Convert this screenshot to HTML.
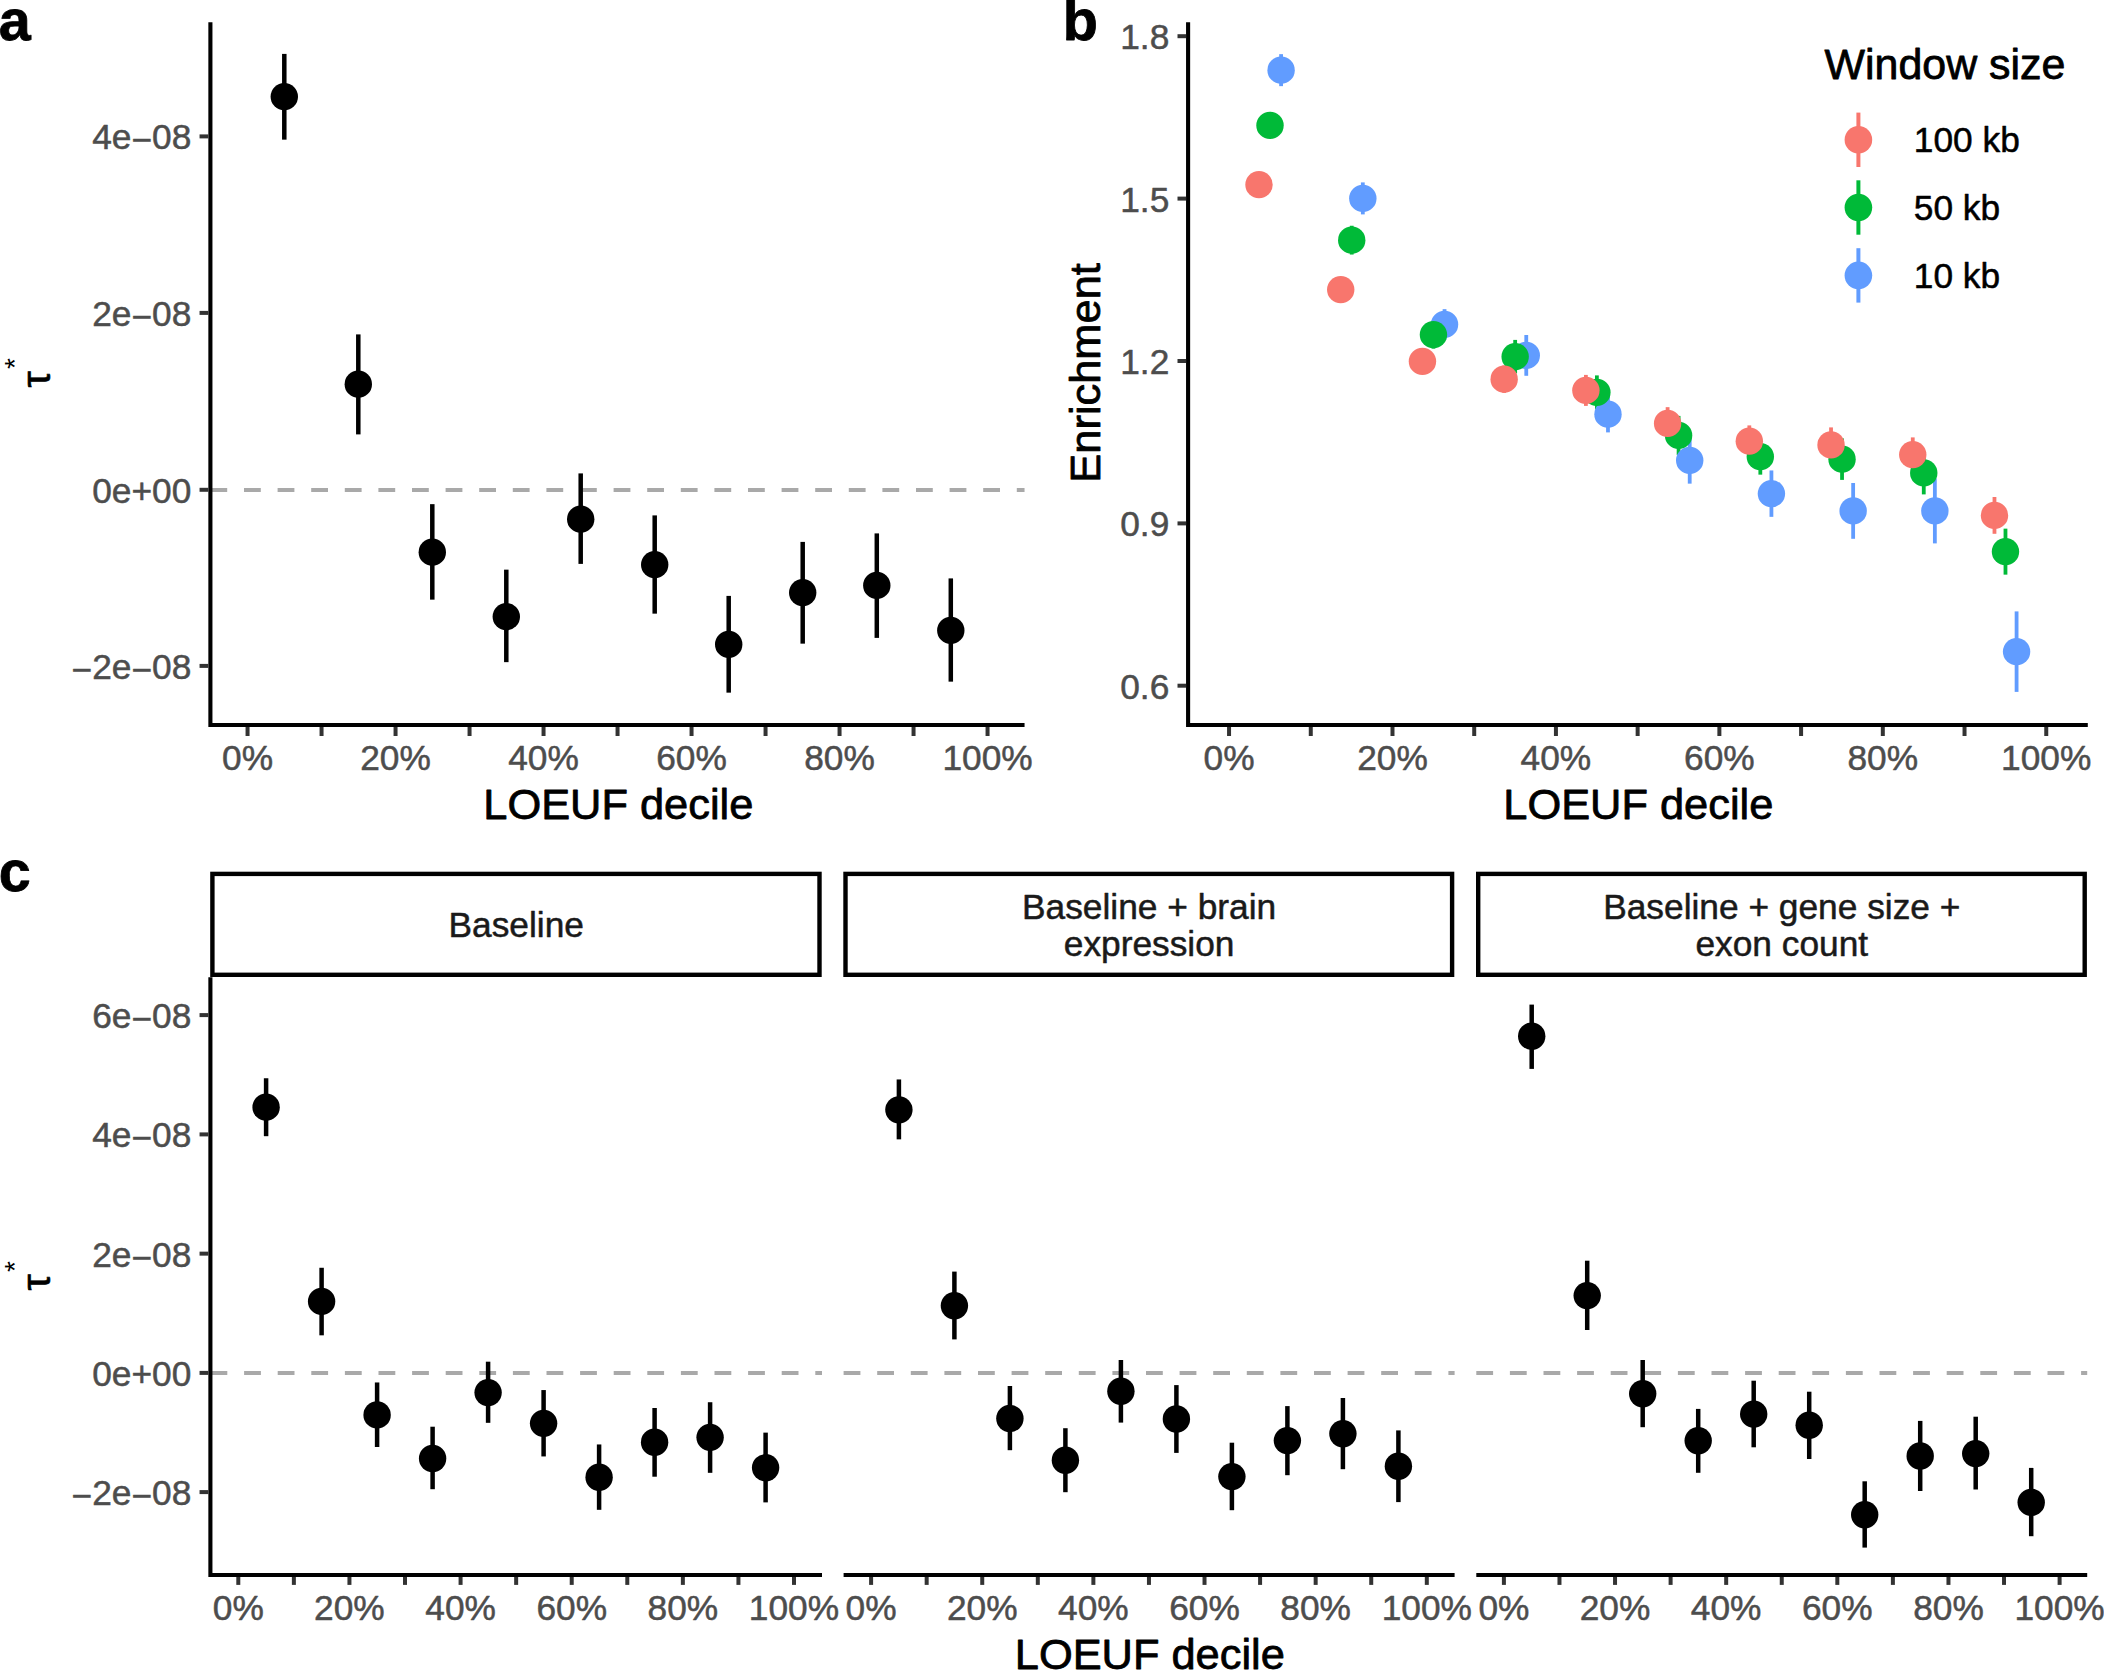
<!DOCTYPE html>
<html lang="en"><head><meta charset="utf-8"><title>LOEUF decile figure</title>
<style>html,body{margin:0;padding:0;background:#fff;}svg{display:block;}text{font-family:"Liberation Sans",sans-serif;}</style>
</head><body>
<svg width="2104" height="1670" viewBox="0 0 2104 1670">
<rect x="0" y="0" width="2104" height="1670" fill="#ffffff"/>
<g transform="translate(0.3,0.4)">
<line x1="210.1" y1="489.6" x2="1024.25" y2="489.6" stroke="#a9a9a9" stroke-width="4" stroke-dasharray="16.8 16.8"/>
<line x1="284" y1="53.5" x2="284" y2="139.25" stroke="#000" stroke-width="4.5"/>
<line x1="358" y1="334" x2="358" y2="434" stroke="#000" stroke-width="4.5"/>
<line x1="432" y1="503.75" x2="432" y2="599.25" stroke="#000" stroke-width="4.5"/>
<line x1="506" y1="569.25" x2="506" y2="661.75" stroke="#000" stroke-width="4.5"/>
<line x1="580.4" y1="473" x2="580.4" y2="563.5" stroke="#000" stroke-width="4.5"/>
<line x1="654.4" y1="515" x2="654.4" y2="613.25" stroke="#000" stroke-width="4.5"/>
<line x1="728.4" y1="595.5" x2="728.4" y2="692.25" stroke="#000" stroke-width="4.5"/>
<line x1="802.4" y1="541.5" x2="802.4" y2="643.25" stroke="#000" stroke-width="4.5"/>
<line x1="876.5" y1="533" x2="876.5" y2="637.5" stroke="#000" stroke-width="4.5"/>
<line x1="950.5" y1="578" x2="950.5" y2="681.25" stroke="#000" stroke-width="4.5"/>
<circle cx="284" cy="96.25" r="13.7" fill="#000"/>
<circle cx="358" cy="383.75" r="13.7" fill="#000"/>
<circle cx="432" cy="551.75" r="13.7" fill="#000"/>
<circle cx="506" cy="616.25" r="13.7" fill="#000"/>
<circle cx="580.4" cy="518.75" r="13.7" fill="#000"/>
<circle cx="654.4" cy="564.25" r="13.7" fill="#000"/>
<circle cx="728.4" cy="644" r="13.7" fill="#000"/>
<circle cx="802.4" cy="592.25" r="13.7" fill="#000"/>
<circle cx="876.5" cy="585" r="13.7" fill="#000"/>
<circle cx="950.5" cy="630" r="13.7" fill="#000"/>
<path d="M210.1,21.75 V724.6 H1024.25" fill="none" stroke="#000" stroke-width="4.1"/>
<line x1="199.25" y1="136" x2="208.1" y2="136" stroke="#333333" stroke-width="4"/>
<text transform="translate(191,148.9) scale(1,1)" font-size="35.3" fill="#4d4d4d" text-anchor="end" stroke="#4d4d4d" stroke-width="0.5" stroke-linejoin="round">4e<tspan dy="3">−</tspan><tspan dy="-3">08</tspan></text>
<line x1="199.25" y1="312.5" x2="208.1" y2="312.5" stroke="#333333" stroke-width="4"/>
<text transform="translate(191,325.4) scale(1,1)" font-size="35.3" fill="#4d4d4d" text-anchor="end" stroke="#4d4d4d" stroke-width="0.5" stroke-linejoin="round">2e<tspan dy="3">−</tspan><tspan dy="-3">08</tspan></text>
<line x1="199.25" y1="489.4" x2="208.1" y2="489.4" stroke="#333333" stroke-width="4"/>
<text transform="translate(191,502.3) scale(1,1)" font-size="35.3" fill="#4d4d4d" text-anchor="end" stroke="#4d4d4d" stroke-width="0.5" stroke-linejoin="round">0e+00</text>
<line x1="199.25" y1="665.5" x2="208.1" y2="665.5" stroke="#333333" stroke-width="4"/>
<text transform="translate(191,678.4) scale(1,1)" font-size="35.3" fill="#4d4d4d" text-anchor="end" stroke="#4d4d4d" stroke-width="0.5" stroke-linejoin="round"><tspan dy="3">−</tspan><tspan dy="-3">2e</tspan><tspan dy="3">−</tspan><tspan dy="-3">08</tspan></text>
<line x1="247.25" y1="726.6" x2="247.25" y2="735.6" stroke="#333333" stroke-width="4"/>
<text transform="translate(247.25,769.6) scale(1,1)" font-size="35.3" fill="#4d4d4d" text-anchor="middle" stroke="#4d4d4d" stroke-width="0.5" stroke-linejoin="round">0%</text>
<line x1="321.25" y1="726.6" x2="321.25" y2="735.6" stroke="#333333" stroke-width="4"/>
<line x1="395.25" y1="726.6" x2="395.25" y2="735.6" stroke="#333333" stroke-width="4"/>
<text transform="translate(395.25,769.6) scale(1,1)" font-size="35.3" fill="#4d4d4d" text-anchor="middle" stroke="#4d4d4d" stroke-width="0.5" stroke-linejoin="round">20%</text>
<line x1="469.25" y1="726.6" x2="469.25" y2="735.6" stroke="#333333" stroke-width="4"/>
<line x1="543.25" y1="726.6" x2="543.25" y2="735.6" stroke="#333333" stroke-width="4"/>
<text transform="translate(543.25,769.6) scale(1,1)" font-size="35.3" fill="#4d4d4d" text-anchor="middle" stroke="#4d4d4d" stroke-width="0.5" stroke-linejoin="round">40%</text>
<line x1="617.25" y1="726.6" x2="617.25" y2="735.6" stroke="#333333" stroke-width="4"/>
<line x1="691.25" y1="726.6" x2="691.25" y2="735.6" stroke="#333333" stroke-width="4"/>
<text transform="translate(691.25,769.6) scale(1,1)" font-size="35.3" fill="#4d4d4d" text-anchor="middle" stroke="#4d4d4d" stroke-width="0.5" stroke-linejoin="round">60%</text>
<line x1="765.25" y1="726.6" x2="765.25" y2="735.6" stroke="#333333" stroke-width="4"/>
<line x1="839.25" y1="726.6" x2="839.25" y2="735.6" stroke="#333333" stroke-width="4"/>
<text transform="translate(839.25,769.6) scale(1,1)" font-size="35.3" fill="#4d4d4d" text-anchor="middle" stroke="#4d4d4d" stroke-width="0.5" stroke-linejoin="round">80%</text>
<line x1="913.25" y1="726.6" x2="913.25" y2="735.6" stroke="#333333" stroke-width="4"/>
<line x1="987.25" y1="726.6" x2="987.25" y2="735.6" stroke="#333333" stroke-width="4"/>
<text transform="translate(987.25,769.6) scale(1,1)" font-size="35.3" fill="#4d4d4d" text-anchor="middle" stroke="#4d4d4d" stroke-width="0.5" stroke-linejoin="round">100%</text>
<text transform="translate(618,818.9) scale(1,1)" font-size="43.4" fill="#000" text-anchor="middle" stroke="#000" stroke-width="0.8" stroke-linejoin="round">LOEUF decile</text>
<g transform="translate(49.7,373.5) rotate(-90)">
<text x="-13.7" y="0" font-family="'Liberation Serif', 'DejaVu Serif', serif" font-size="41" fill="#000" stroke="#000" stroke-width="0.6">τ</text>
<text x="5" y="-26.2" font-size="28" fill="#000">*</text>
</g>
<text x="-1.5" y="40" font-size="57.5" fill="#000" text-anchor="start" font-weight="bold" stroke="#000" stroke-width="0.8" stroke-linejoin="round">a</text>
<line x1="1280.8" y1="53.75" x2="1280.8" y2="85.75" stroke="#619cff" stroke-width="3.8"/>
<line x1="1362.52" y1="182" x2="1362.52" y2="214" stroke="#619cff" stroke-width="3.8"/>
<line x1="1444.24" y1="308.75" x2="1444.24" y2="339.25" stroke="#619cff" stroke-width="3.8"/>
<line x1="1525.96" y1="334.6" x2="1525.96" y2="375.4" stroke="#619cff" stroke-width="3.8"/>
<line x1="1607.68" y1="395.5" x2="1607.68" y2="432" stroke="#619cff" stroke-width="3.8"/>
<line x1="1689.4" y1="436.75" x2="1689.4" y2="483.25" stroke="#619cff" stroke-width="3.8"/>
<line x1="1771.12" y1="470.05" x2="1771.12" y2="516.45" stroke="#619cff" stroke-width="3.8"/>
<line x1="1852.84" y1="482.6" x2="1852.84" y2="538.4" stroke="#619cff" stroke-width="3.8"/>
<line x1="1934.56" y1="478" x2="1934.56" y2="543" stroke="#619cff" stroke-width="3.8"/>
<line x1="2016.28" y1="611" x2="2016.28" y2="691.5" stroke="#619cff" stroke-width="3.8"/>
<line x1="1269.7" y1="113" x2="1269.7" y2="137" stroke="#00ba38" stroke-width="3.8"/>
<line x1="1351.42" y1="225.35" x2="1351.42" y2="254.15" stroke="#00ba38" stroke-width="3.8"/>
<line x1="1433.14" y1="320.25" x2="1433.14" y2="348.25" stroke="#00ba38" stroke-width="3.8"/>
<line x1="1514.86" y1="339.5" x2="1514.86" y2="373" stroke="#00ba38" stroke-width="3.8"/>
<line x1="1596.58" y1="375" x2="1596.58" y2="409" stroke="#00ba38" stroke-width="3.8"/>
<line x1="1678.3" y1="415.5" x2="1678.3" y2="454.5" stroke="#00ba38" stroke-width="3.8"/>
<line x1="1760.02" y1="438.25" x2="1760.02" y2="474.25" stroke="#00ba38" stroke-width="3.8"/>
<line x1="1841.74" y1="438" x2="1841.74" y2="479.5" stroke="#00ba38" stroke-width="3.8"/>
<line x1="1923.46" y1="451" x2="1923.46" y2="494" stroke="#00ba38" stroke-width="3.8"/>
<line x1="2005.18" y1="528.25" x2="2005.18" y2="574.25" stroke="#00ba38" stroke-width="3.8"/>
<line x1="1258.7" y1="176.25" x2="1258.7" y2="192.25" stroke="#f8766d" stroke-width="3.8"/>
<line x1="1340.42" y1="280.25" x2="1340.42" y2="298.25" stroke="#f8766d" stroke-width="3.8"/>
<line x1="1422.14" y1="350" x2="1422.14" y2="372" stroke="#f8766d" stroke-width="3.8"/>
<line x1="1503.86" y1="365" x2="1503.86" y2="392.5" stroke="#f8766d" stroke-width="3.8"/>
<line x1="1585.58" y1="374.5" x2="1585.58" y2="405.5" stroke="#f8766d" stroke-width="3.8"/>
<line x1="1667.3" y1="406.75" x2="1667.3" y2="439.25" stroke="#f8766d" stroke-width="3.8"/>
<line x1="1749.02" y1="425" x2="1749.02" y2="456.5" stroke="#f8766d" stroke-width="3.8"/>
<line x1="1830.74" y1="427" x2="1830.74" y2="462" stroke="#f8766d" stroke-width="3.8"/>
<line x1="1912.46" y1="437" x2="1912.46" y2="471.5" stroke="#f8766d" stroke-width="3.8"/>
<line x1="1994.18" y1="496.6" x2="1994.18" y2="533.4" stroke="#f8766d" stroke-width="3.8"/>
<circle cx="1280.8" cy="69.75" r="13.7" fill="#619cff"/>
<circle cx="1269.7" cy="125" r="13.7" fill="#00ba38"/>
<circle cx="1258.7" cy="184.25" r="13.7" fill="#f8766d"/>
<circle cx="1362.52" cy="198" r="13.7" fill="#619cff"/>
<circle cx="1351.42" cy="239.75" r="13.7" fill="#00ba38"/>
<circle cx="1340.42" cy="289.25" r="13.7" fill="#f8766d"/>
<circle cx="1444.24" cy="324" r="13.7" fill="#619cff"/>
<circle cx="1433.14" cy="334.25" r="13.7" fill="#00ba38"/>
<circle cx="1422.14" cy="361" r="13.7" fill="#f8766d"/>
<circle cx="1525.96" cy="355" r="13.7" fill="#619cff"/>
<circle cx="1514.86" cy="356.25" r="13.7" fill="#00ba38"/>
<circle cx="1503.86" cy="378.75" r="13.7" fill="#f8766d"/>
<circle cx="1607.68" cy="413.75" r="13.7" fill="#619cff"/>
<circle cx="1596.58" cy="392" r="13.7" fill="#00ba38"/>
<circle cx="1585.58" cy="390" r="13.7" fill="#f8766d"/>
<circle cx="1689.4" cy="460" r="13.7" fill="#619cff"/>
<circle cx="1678.3" cy="435" r="13.7" fill="#00ba38"/>
<circle cx="1667.3" cy="423" r="13.7" fill="#f8766d"/>
<circle cx="1771.12" cy="493.25" r="13.7" fill="#619cff"/>
<circle cx="1760.02" cy="456.25" r="13.7" fill="#00ba38"/>
<circle cx="1749.02" cy="440.75" r="13.7" fill="#f8766d"/>
<circle cx="1852.84" cy="510.5" r="13.7" fill="#619cff"/>
<circle cx="1841.74" cy="458.75" r="13.7" fill="#00ba38"/>
<circle cx="1830.74" cy="444.5" r="13.7" fill="#f8766d"/>
<circle cx="1934.56" cy="510.5" r="13.7" fill="#619cff"/>
<circle cx="1923.46" cy="472.5" r="13.7" fill="#00ba38"/>
<circle cx="1912.46" cy="454.25" r="13.7" fill="#f8766d"/>
<circle cx="2016.28" cy="651.25" r="13.7" fill="#619cff"/>
<circle cx="2005.18" cy="551.25" r="13.7" fill="#00ba38"/>
<circle cx="1994.18" cy="515" r="13.7" fill="#f8766d"/>
<path d="M1187.8,21.75 V724.6 H2087.5" fill="none" stroke="#000" stroke-width="4.1"/>
<line x1="1177.2" y1="35.8" x2="1185.8" y2="35.8" stroke="#333333" stroke-width="4"/>
<text transform="translate(1169,48.7) scale(1,1)" font-size="35.3" fill="#4d4d4d" text-anchor="end" stroke="#4d4d4d" stroke-width="0.5" stroke-linejoin="round">1.8</text>
<line x1="1177.2" y1="198.2" x2="1185.8" y2="198.2" stroke="#333333" stroke-width="4"/>
<text transform="translate(1169,211.1) scale(1,1)" font-size="35.3" fill="#4d4d4d" text-anchor="end" stroke="#4d4d4d" stroke-width="0.5" stroke-linejoin="round">1.5</text>
<line x1="1177.2" y1="360.6" x2="1185.8" y2="360.6" stroke="#333333" stroke-width="4"/>
<text transform="translate(1169,373.5) scale(1,1)" font-size="35.3" fill="#4d4d4d" text-anchor="end" stroke="#4d4d4d" stroke-width="0.5" stroke-linejoin="round">1.2</text>
<line x1="1177.2" y1="523" x2="1185.8" y2="523" stroke="#333333" stroke-width="4"/>
<text transform="translate(1169,535.9) scale(1,1)" font-size="35.3" fill="#4d4d4d" text-anchor="end" stroke="#4d4d4d" stroke-width="0.5" stroke-linejoin="round">0.9</text>
<line x1="1177.2" y1="685.3" x2="1185.8" y2="685.3" stroke="#333333" stroke-width="4"/>
<text transform="translate(1169,698.2) scale(1,1)" font-size="35.3" fill="#4d4d4d" text-anchor="end" stroke="#4d4d4d" stroke-width="0.5" stroke-linejoin="round">0.6</text>
<line x1="1228.75" y1="726.6" x2="1228.75" y2="735.6" stroke="#333333" stroke-width="4"/>
<text transform="translate(1228.75,769.6) scale(1,1)" font-size="35.3" fill="#4d4d4d" text-anchor="middle" stroke="#4d4d4d" stroke-width="0.5" stroke-linejoin="round">0%</text>
<line x1="1310.47" y1="726.6" x2="1310.47" y2="735.6" stroke="#333333" stroke-width="4"/>
<line x1="1392.19" y1="726.6" x2="1392.19" y2="735.6" stroke="#333333" stroke-width="4"/>
<text transform="translate(1392.19,769.6) scale(1,1)" font-size="35.3" fill="#4d4d4d" text-anchor="middle" stroke="#4d4d4d" stroke-width="0.5" stroke-linejoin="round">20%</text>
<line x1="1473.91" y1="726.6" x2="1473.91" y2="735.6" stroke="#333333" stroke-width="4"/>
<line x1="1555.63" y1="726.6" x2="1555.63" y2="735.6" stroke="#333333" stroke-width="4"/>
<text transform="translate(1555.63,769.6) scale(1,1)" font-size="35.3" fill="#4d4d4d" text-anchor="middle" stroke="#4d4d4d" stroke-width="0.5" stroke-linejoin="round">40%</text>
<line x1="1637.35" y1="726.6" x2="1637.35" y2="735.6" stroke="#333333" stroke-width="4"/>
<line x1="1719.07" y1="726.6" x2="1719.07" y2="735.6" stroke="#333333" stroke-width="4"/>
<text transform="translate(1719.07,769.6) scale(1,1)" font-size="35.3" fill="#4d4d4d" text-anchor="middle" stroke="#4d4d4d" stroke-width="0.5" stroke-linejoin="round">60%</text>
<line x1="1800.79" y1="726.6" x2="1800.79" y2="735.6" stroke="#333333" stroke-width="4"/>
<line x1="1882.51" y1="726.6" x2="1882.51" y2="735.6" stroke="#333333" stroke-width="4"/>
<text transform="translate(1882.51,769.6) scale(1,1)" font-size="35.3" fill="#4d4d4d" text-anchor="middle" stroke="#4d4d4d" stroke-width="0.5" stroke-linejoin="round">80%</text>
<line x1="1964.23" y1="726.6" x2="1964.23" y2="735.6" stroke="#333333" stroke-width="4"/>
<line x1="2045.95" y1="726.6" x2="2045.95" y2="735.6" stroke="#333333" stroke-width="4"/>
<text transform="translate(2045.95,769.6) scale(1,1)" font-size="35.3" fill="#4d4d4d" text-anchor="middle" stroke="#4d4d4d" stroke-width="0.5" stroke-linejoin="round">100%</text>
<text transform="translate(1638,818.9) scale(1,1)" font-size="43.4" fill="#000" text-anchor="middle" stroke="#000" stroke-width="0.8" stroke-linejoin="round">LOEUF decile</text>
<text transform="translate(1099.5,372.5) rotate(-90) scale(1,1)" font-size="43.4" fill="#000" stroke="#000" stroke-width="0.8" stroke-linejoin="round" text-anchor="middle">Enrichment</text>
<text x="1062.4" y="40" font-size="57.5" fill="#000" text-anchor="start" font-weight="bold" stroke="#000" stroke-width="0.8" stroke-linejoin="round">b</text>
<text transform="translate(1824.3,78.6) scale(1,1)" font-size="42.9" fill="#000" text-anchor="start" stroke="#000" stroke-width="0.8" stroke-linejoin="round">Window size</text>
<line x1="1858.1" y1="112.2" x2="1858.1" y2="166.6" stroke="#f8766d" stroke-width="4"/>
<circle cx="1858.1" cy="139.4" r="13.8" fill="#f8766d"/>
<text transform="translate(1913.5,152) scale(1,1)" font-size="35.3" fill="#000" text-anchor="start" stroke="#000" stroke-width="0.5" stroke-linejoin="round">100 kb</text>
<line x1="1858.1" y1="179.9" x2="1858.1" y2="234.3" stroke="#00ba38" stroke-width="4"/>
<circle cx="1858.1" cy="207.1" r="13.8" fill="#00ba38"/>
<text transform="translate(1913.5,219.8) scale(1,1)" font-size="35.3" fill="#000" text-anchor="start" stroke="#000" stroke-width="0.5" stroke-linejoin="round">50 kb</text>
<line x1="1858.1" y1="247.8" x2="1858.1" y2="302.2" stroke="#619cff" stroke-width="4"/>
<circle cx="1858.1" cy="275" r="13.8" fill="#619cff"/>
<text transform="translate(1913.5,287.6) scale(1,1)" font-size="35.3" fill="#000" text-anchor="start" stroke="#000" stroke-width="0.5" stroke-linejoin="round">10 kb</text>
<line x1="210.2" y1="1372.5" x2="821.7" y2="1372.5" stroke="#a9a9a9" stroke-width="4" stroke-dasharray="16.8 16.8"/>
<line x1="265.8" y1="1077.85" x2="265.8" y2="1135.79" stroke="#000" stroke-width="4.5"/>
<line x1="321.3" y1="1267.37" x2="321.3" y2="1334.93" stroke="#000" stroke-width="4.5"/>
<line x1="376.8" y1="1382.06" x2="376.8" y2="1446.58" stroke="#000" stroke-width="4.5"/>
<line x1="432.3" y1="1426.31" x2="432.3" y2="1488.81" stroke="#000" stroke-width="4.5"/>
<line x1="487.8" y1="1361.28" x2="487.8" y2="1422.43" stroke="#000" stroke-width="4.5"/>
<line x1="543.3" y1="1389.66" x2="543.3" y2="1456.04" stroke="#000" stroke-width="4.5"/>
<line x1="598.8" y1="1444.05" x2="598.8" y2="1509.42" stroke="#000" stroke-width="4.5"/>
<line x1="654.3" y1="1407.57" x2="654.3" y2="1476.31" stroke="#000" stroke-width="4.5"/>
<line x1="709.8" y1="1401.82" x2="709.8" y2="1472.43" stroke="#000" stroke-width="4.5"/>
<line x1="765.3" y1="1432.23" x2="765.3" y2="1501.99" stroke="#000" stroke-width="4.5"/>
<circle cx="265.8" cy="1106.74" r="13.7" fill="#000"/>
<circle cx="321.3" cy="1300.98" r="13.7" fill="#000"/>
<circle cx="376.8" cy="1414.49" r="13.7" fill="#000"/>
<circle cx="432.3" cy="1458.07" r="13.7" fill="#000"/>
<circle cx="487.8" cy="1392.19" r="13.7" fill="#000"/>
<circle cx="543.3" cy="1422.94" r="13.7" fill="#000"/>
<circle cx="598.8" cy="1476.82" r="13.7" fill="#000"/>
<circle cx="654.3" cy="1441.85" r="13.7" fill="#000"/>
<circle cx="709.8" cy="1436.96" r="13.7" fill="#000"/>
<circle cx="765.3" cy="1467.36" r="13.7" fill="#000"/>
<path d="M210.1,976.9 V1574.6 H821.7" fill="none" stroke="#000" stroke-width="4.1"/>
<line x1="238" y1="1576.6" x2="238" y2="1584.5" stroke="#333333" stroke-width="4"/>
<text transform="translate(238,1620) scale(1,1)" font-size="35.3" fill="#4d4d4d" text-anchor="middle" stroke="#4d4d4d" stroke-width="0.5" stroke-linejoin="round">0%</text>
<line x1="293.57" y1="1576.6" x2="293.57" y2="1584.5" stroke="#333333" stroke-width="4"/>
<line x1="349.14" y1="1576.6" x2="349.14" y2="1584.5" stroke="#333333" stroke-width="4"/>
<text transform="translate(349.14,1620) scale(1,1)" font-size="35.3" fill="#4d4d4d" text-anchor="middle" stroke="#4d4d4d" stroke-width="0.5" stroke-linejoin="round">20%</text>
<line x1="404.71" y1="1576.6" x2="404.71" y2="1584.5" stroke="#333333" stroke-width="4"/>
<line x1="460.28" y1="1576.6" x2="460.28" y2="1584.5" stroke="#333333" stroke-width="4"/>
<text transform="translate(460.28,1620) scale(1,1)" font-size="35.3" fill="#4d4d4d" text-anchor="middle" stroke="#4d4d4d" stroke-width="0.5" stroke-linejoin="round">40%</text>
<line x1="515.85" y1="1576.6" x2="515.85" y2="1584.5" stroke="#333333" stroke-width="4"/>
<line x1="571.42" y1="1576.6" x2="571.42" y2="1584.5" stroke="#333333" stroke-width="4"/>
<text transform="translate(571.42,1620) scale(1,1)" font-size="35.3" fill="#4d4d4d" text-anchor="middle" stroke="#4d4d4d" stroke-width="0.5" stroke-linejoin="round">60%</text>
<line x1="626.99" y1="1576.6" x2="626.99" y2="1584.5" stroke="#333333" stroke-width="4"/>
<line x1="682.56" y1="1576.6" x2="682.56" y2="1584.5" stroke="#333333" stroke-width="4"/>
<text transform="translate(682.56,1620) scale(1,1)" font-size="35.3" fill="#4d4d4d" text-anchor="middle" stroke="#4d4d4d" stroke-width="0.5" stroke-linejoin="round">80%</text>
<line x1="738.13" y1="1576.6" x2="738.13" y2="1584.5" stroke="#333333" stroke-width="4"/>
<line x1="793.7" y1="1576.6" x2="793.7" y2="1584.5" stroke="#333333" stroke-width="4"/>
<text transform="translate(793.7,1620) scale(1,1)" font-size="35.3" fill="#4d4d4d" text-anchor="middle" stroke="#4d4d4d" stroke-width="0.5" stroke-linejoin="round">100%</text>
<rect x="212.1" y="873.5" width="607.1" height="100.9" fill="#fff" stroke="#000" stroke-width="4.4"/>
<text transform="translate(515.95,937) scale(1,1)" font-size="35.3" fill="#1a1a1a" text-anchor="middle" stroke="#1a1a1a" stroke-width="0.5" stroke-linejoin="round">Baseline</text>
<line x1="843.3" y1="1372.5" x2="1454.3" y2="1372.5" stroke="#a9a9a9" stroke-width="4" stroke-dasharray="16.8 16.8"/>
<line x1="898.6" y1="1079.05" x2="898.6" y2="1138.95" stroke="#000" stroke-width="4.5"/>
<line x1="954.1" y1="1271.2" x2="954.1" y2="1339" stroke="#000" stroke-width="4.5"/>
<line x1="1009.6" y1="1385.6" x2="1009.6" y2="1449.8" stroke="#000" stroke-width="4.5"/>
<line x1="1065.1" y1="1427.8" x2="1065.1" y2="1491.8" stroke="#000" stroke-width="4.5"/>
<line x1="1120.6" y1="1359.6" x2="1120.6" y2="1422.2" stroke="#000" stroke-width="4.5"/>
<line x1="1176.1" y1="1384.7" x2="1176.1" y2="1452.5" stroke="#000" stroke-width="4.5"/>
<line x1="1231.6" y1="1442.3" x2="1231.6" y2="1509.8" stroke="#000" stroke-width="4.5"/>
<line x1="1287.1" y1="1405.7" x2="1287.1" y2="1474.8" stroke="#000" stroke-width="4.5"/>
<line x1="1342.6" y1="1397.6" x2="1342.6" y2="1468.8" stroke="#000" stroke-width="4.5"/>
<line x1="1398.1" y1="1430" x2="1398.1" y2="1501.7" stroke="#000" stroke-width="4.5"/>
<circle cx="898.6" cy="1109.45" r="13.7" fill="#000"/>
<circle cx="954.1" cy="1305.4" r="13.7" fill="#000"/>
<circle cx="1009.6" cy="1418.1" r="13.7" fill="#000"/>
<circle cx="1065.1" cy="1459.8" r="13.7" fill="#000"/>
<circle cx="1120.6" cy="1390.9" r="13.7" fill="#000"/>
<circle cx="1176.1" cy="1418.6" r="13.7" fill="#000"/>
<circle cx="1231.6" cy="1476.2" r="13.7" fill="#000"/>
<circle cx="1287.1" cy="1440.2" r="13.7" fill="#000"/>
<circle cx="1342.6" cy="1433.3" r="13.7" fill="#000"/>
<circle cx="1398.1" cy="1465.8" r="13.7" fill="#000"/>
<line x1="843.3" y1="1574.6" x2="1454.3" y2="1574.6" stroke="#000" stroke-width="4.1"/>
<line x1="870.8" y1="1576.6" x2="870.8" y2="1584.5" stroke="#333333" stroke-width="4"/>
<text transform="translate(870.8,1620) scale(1,1)" font-size="35.3" fill="#4d4d4d" text-anchor="middle" stroke="#4d4d4d" stroke-width="0.5" stroke-linejoin="round">0%</text>
<line x1="926.37" y1="1576.6" x2="926.37" y2="1584.5" stroke="#333333" stroke-width="4"/>
<line x1="981.94" y1="1576.6" x2="981.94" y2="1584.5" stroke="#333333" stroke-width="4"/>
<text transform="translate(981.94,1620) scale(1,1)" font-size="35.3" fill="#4d4d4d" text-anchor="middle" stroke="#4d4d4d" stroke-width="0.5" stroke-linejoin="round">20%</text>
<line x1="1037.51" y1="1576.6" x2="1037.51" y2="1584.5" stroke="#333333" stroke-width="4"/>
<line x1="1093.08" y1="1576.6" x2="1093.08" y2="1584.5" stroke="#333333" stroke-width="4"/>
<text transform="translate(1093.08,1620) scale(1,1)" font-size="35.3" fill="#4d4d4d" text-anchor="middle" stroke="#4d4d4d" stroke-width="0.5" stroke-linejoin="round">40%</text>
<line x1="1148.65" y1="1576.6" x2="1148.65" y2="1584.5" stroke="#333333" stroke-width="4"/>
<line x1="1204.22" y1="1576.6" x2="1204.22" y2="1584.5" stroke="#333333" stroke-width="4"/>
<text transform="translate(1204.22,1620) scale(1,1)" font-size="35.3" fill="#4d4d4d" text-anchor="middle" stroke="#4d4d4d" stroke-width="0.5" stroke-linejoin="round">60%</text>
<line x1="1259.79" y1="1576.6" x2="1259.79" y2="1584.5" stroke="#333333" stroke-width="4"/>
<line x1="1315.36" y1="1576.6" x2="1315.36" y2="1584.5" stroke="#333333" stroke-width="4"/>
<text transform="translate(1315.36,1620) scale(1,1)" font-size="35.3" fill="#4d4d4d" text-anchor="middle" stroke="#4d4d4d" stroke-width="0.5" stroke-linejoin="round">80%</text>
<line x1="1370.93" y1="1576.6" x2="1370.93" y2="1584.5" stroke="#333333" stroke-width="4"/>
<line x1="1426.5" y1="1576.6" x2="1426.5" y2="1584.5" stroke="#333333" stroke-width="4"/>
<text transform="translate(1426.5,1620) scale(1,1)" font-size="35.3" fill="#4d4d4d" text-anchor="middle" stroke="#4d4d4d" stroke-width="0.5" stroke-linejoin="round">100%</text>
<rect x="845.2" y="873.5" width="606.6" height="100.9" fill="#fff" stroke="#000" stroke-width="4.4"/>
<text transform="translate(1148.8,918.3) scale(1,1)" font-size="35.3" fill="#1a1a1a" text-anchor="middle" stroke="#1a1a1a" stroke-width="0.5" stroke-linejoin="round">Baseline + brain</text>
<text transform="translate(1148.8,956) scale(1,1)" font-size="35.3" fill="#1a1a1a" text-anchor="middle" stroke="#1a1a1a" stroke-width="0.5" stroke-linejoin="round">expression</text>
<line x1="1476" y1="1372.5" x2="2086.9" y2="1372.5" stroke="#a9a9a9" stroke-width="4" stroke-dasharray="16.8 16.8"/>
<line x1="1531.4" y1="1004.2" x2="1531.4" y2="1068.5" stroke="#000" stroke-width="4.5"/>
<line x1="1586.9" y1="1260.3" x2="1586.9" y2="1329.6" stroke="#000" stroke-width="4.5"/>
<line x1="1642.4" y1="1359.6" x2="1642.4" y2="1426.8" stroke="#000" stroke-width="4.5"/>
<line x1="1697.9" y1="1408.5" x2="1697.9" y2="1472.4" stroke="#000" stroke-width="4.5"/>
<line x1="1753.4" y1="1380.3" x2="1753.4" y2="1446.9" stroke="#000" stroke-width="4.5"/>
<line x1="1808.9" y1="1391.3" x2="1808.9" y2="1458.6" stroke="#000" stroke-width="4.5"/>
<line x1="1864.4" y1="1480.9" x2="1864.4" y2="1547.2" stroke="#000" stroke-width="4.5"/>
<line x1="1919.9" y1="1420.5" x2="1919.9" y2="1490.6" stroke="#000" stroke-width="4.5"/>
<line x1="1975.4" y1="1416.3" x2="1975.4" y2="1489.1" stroke="#000" stroke-width="4.5"/>
<line x1="2030.9" y1="1467.5" x2="2030.9" y2="1535.8" stroke="#000" stroke-width="4.5"/>
<circle cx="1531.4" cy="1035.8" r="13.7" fill="#000"/>
<circle cx="1586.9" cy="1295.2" r="13.7" fill="#000"/>
<circle cx="1642.4" cy="1393.3" r="13.7" fill="#000"/>
<circle cx="1697.9" cy="1440.3" r="13.7" fill="#000"/>
<circle cx="1753.4" cy="1413.7" r="13.7" fill="#000"/>
<circle cx="1808.9" cy="1424.8" r="13.7" fill="#000"/>
<circle cx="1864.4" cy="1514.3" r="13.7" fill="#000"/>
<circle cx="1919.9" cy="1455.6" r="13.7" fill="#000"/>
<circle cx="1975.4" cy="1453.2" r="13.7" fill="#000"/>
<circle cx="2030.9" cy="1502" r="13.7" fill="#000"/>
<line x1="1476" y1="1574.6" x2="2086.9" y2="1574.6" stroke="#000" stroke-width="4.1"/>
<line x1="1503.6" y1="1576.6" x2="1503.6" y2="1584.5" stroke="#333333" stroke-width="4"/>
<text transform="translate(1503.6,1620) scale(1,1)" font-size="35.3" fill="#4d4d4d" text-anchor="middle" stroke="#4d4d4d" stroke-width="0.5" stroke-linejoin="round">0%</text>
<line x1="1559.17" y1="1576.6" x2="1559.17" y2="1584.5" stroke="#333333" stroke-width="4"/>
<line x1="1614.74" y1="1576.6" x2="1614.74" y2="1584.5" stroke="#333333" stroke-width="4"/>
<text transform="translate(1614.74,1620) scale(1,1)" font-size="35.3" fill="#4d4d4d" text-anchor="middle" stroke="#4d4d4d" stroke-width="0.5" stroke-linejoin="round">20%</text>
<line x1="1670.31" y1="1576.6" x2="1670.31" y2="1584.5" stroke="#333333" stroke-width="4"/>
<line x1="1725.88" y1="1576.6" x2="1725.88" y2="1584.5" stroke="#333333" stroke-width="4"/>
<text transform="translate(1725.88,1620) scale(1,1)" font-size="35.3" fill="#4d4d4d" text-anchor="middle" stroke="#4d4d4d" stroke-width="0.5" stroke-linejoin="round">40%</text>
<line x1="1781.45" y1="1576.6" x2="1781.45" y2="1584.5" stroke="#333333" stroke-width="4"/>
<line x1="1837.02" y1="1576.6" x2="1837.02" y2="1584.5" stroke="#333333" stroke-width="4"/>
<text transform="translate(1837.02,1620) scale(1,1)" font-size="35.3" fill="#4d4d4d" text-anchor="middle" stroke="#4d4d4d" stroke-width="0.5" stroke-linejoin="round">60%</text>
<line x1="1892.59" y1="1576.6" x2="1892.59" y2="1584.5" stroke="#333333" stroke-width="4"/>
<line x1="1948.16" y1="1576.6" x2="1948.16" y2="1584.5" stroke="#333333" stroke-width="4"/>
<text transform="translate(1948.16,1620) scale(1,1)" font-size="35.3" fill="#4d4d4d" text-anchor="middle" stroke="#4d4d4d" stroke-width="0.5" stroke-linejoin="round">80%</text>
<line x1="2003.73" y1="1576.6" x2="2003.73" y2="1584.5" stroke="#333333" stroke-width="4"/>
<line x1="2059.3" y1="1576.6" x2="2059.3" y2="1584.5" stroke="#333333" stroke-width="4"/>
<text transform="translate(2059.3,1620) scale(1,1)" font-size="35.3" fill="#4d4d4d" text-anchor="middle" stroke="#4d4d4d" stroke-width="0.5" stroke-linejoin="round">100%</text>
<rect x="1477.9" y="873.5" width="606.5" height="100.9" fill="#fff" stroke="#000" stroke-width="4.4"/>
<text transform="translate(1781.45,918.3) scale(1,1)" font-size="35.3" fill="#1a1a1a" text-anchor="middle" stroke="#1a1a1a" stroke-width="0.5" stroke-linejoin="round">Baseline + gene size +</text>
<text transform="translate(1781.45,956) scale(1,1)" font-size="35.3" fill="#1a1a1a" text-anchor="middle" stroke="#1a1a1a" stroke-width="0.5" stroke-linejoin="round">exon count</text>
<line x1="199.25" y1="1014.7" x2="208.1" y2="1014.7" stroke="#333333" stroke-width="4"/>
<text transform="translate(191,1027.6) scale(1,1)" font-size="35.3" fill="#4d4d4d" text-anchor="end" stroke="#4d4d4d" stroke-width="0.5" stroke-linejoin="round">6e<tspan dy="3">−</tspan><tspan dy="-3">08</tspan></text>
<line x1="199.25" y1="1134" x2="208.1" y2="1134" stroke="#333333" stroke-width="4"/>
<text transform="translate(191,1146.9) scale(1,1)" font-size="35.3" fill="#4d4d4d" text-anchor="end" stroke="#4d4d4d" stroke-width="0.5" stroke-linejoin="round">4e<tspan dy="3">−</tspan><tspan dy="-3">08</tspan></text>
<line x1="199.25" y1="1253.25" x2="208.1" y2="1253.25" stroke="#333333" stroke-width="4"/>
<text transform="translate(191,1266.15) scale(1,1)" font-size="35.3" fill="#4d4d4d" text-anchor="end" stroke="#4d4d4d" stroke-width="0.5" stroke-linejoin="round">2e<tspan dy="3">−</tspan><tspan dy="-3">08</tspan></text>
<line x1="199.25" y1="1372.5" x2="208.1" y2="1372.5" stroke="#333333" stroke-width="4"/>
<text transform="translate(191,1385.4) scale(1,1)" font-size="35.3" fill="#4d4d4d" text-anchor="end" stroke="#4d4d4d" stroke-width="0.5" stroke-linejoin="round">0e+00</text>
<line x1="199.25" y1="1491.7" x2="208.1" y2="1491.7" stroke="#333333" stroke-width="4"/>
<text transform="translate(191,1504.6) scale(1,1)" font-size="35.3" fill="#4d4d4d" text-anchor="end" stroke="#4d4d4d" stroke-width="0.5" stroke-linejoin="round"><tspan dy="3">−</tspan><tspan dy="-3">2e</tspan><tspan dy="3">−</tspan><tspan dy="-3">08</tspan></text>
<text transform="translate(1149.5,1668.6) scale(1,1)" font-size="43.4" fill="#000" text-anchor="middle" stroke="#000" stroke-width="0.8" stroke-linejoin="round">LOEUF decile</text>
<g transform="translate(49.7,1276.5) rotate(-90)">
<text x="-13.7" y="0" font-family="'Liberation Serif', 'DejaVu Serif', serif" font-size="41" fill="#000" stroke="#000" stroke-width="0.6">τ</text>
<text x="5" y="-26.2" font-size="28" fill="#000">*</text>
</g>
<text x="-1.5" y="890.5" font-size="57.5" fill="#000" text-anchor="start" font-weight="bold" stroke="#000" stroke-width="0.8" stroke-linejoin="round">c</text>
</g>
</svg>
</body></html>
